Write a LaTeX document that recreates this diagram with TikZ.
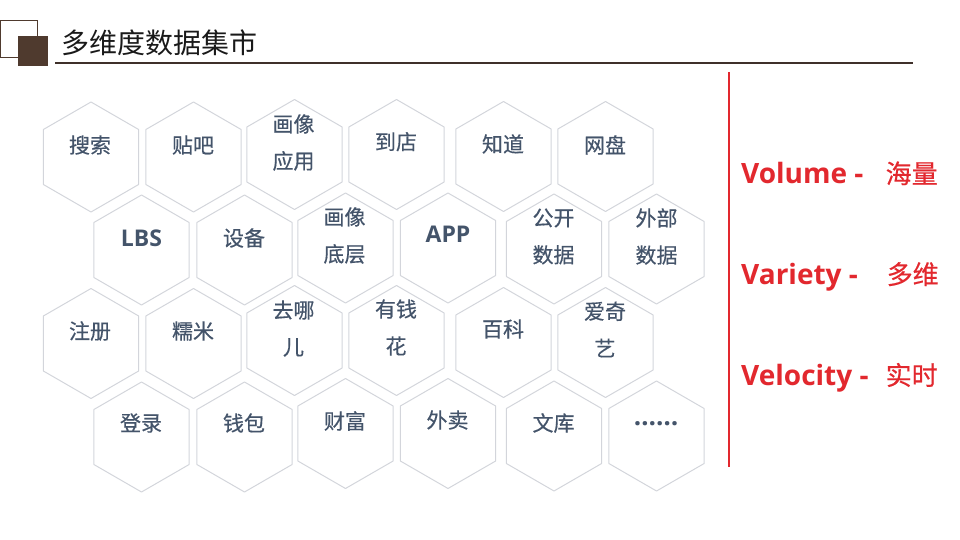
\documentclass[tikz,border=0pt]{standalone}
\usepackage{fontspec}
\setmainfont{Open Sans}
\newfontfamily\cjk{Noto Sans CJK SC}
\newfontfamily\cjkm{Noto Sans CJK SC}[FakeBold=0.5]
\definecolor{hexgray}{HTML}{D3D5DB}
\definecolor{slate}{HTML}{44546A}
\definecolor{accentred}{HTML}{E2282E}
\definecolor{iconbrown}{HTML}{4F3A2E}
\definecolor{rulebrown}{HTML}{3F302A}
\newcommand\hexat[2]{\draw[hexline] (#1,#2) +(90:55) -- +(150:55) -- +(210:55) -- +(270:55) -- +(330:55) -- +(30:55) -- cycle;}
\begin{document}
\begin{tikzpicture}[x=1pt,y=-1pt,
  hexline/.style={draw=hexgray, line width=1pt, line join=round},
  lbl/.style={text=slate, font=\cjkm\fontsize{21}{37}\selectfont, align=center, inner sep=0pt},
  blbl/.style={text=slate, font=\fontsize{23}{26}\selectfont\bfseries, inner sep=0pt},
  redlat/.style={text=accentred, font=\fontsize{28}{30}\selectfont\bfseries, anchor=base west, inner sep=0pt},
  redcjk/.style={text=accentred, font=\cjkm\fontsize{26}{30}\selectfont, anchor=base west, inner sep=0pt}]
\useasboundingbox (0,0) rectangle (960,540);
% header
\draw[iconbrown, line width=1pt] (0.5,21) rectangle (37.5,58);
\fill[iconbrown] (18,36) rectangle (48,66);
\node[anchor=west, inner sep=0pt, font=\cjk\fontsize{28}{30}\selectfont, text=black!90] (title) at (61,43) {多维度数据集市};
\draw[rulebrown, line width=2pt] (55,63.5) -- (913,63.5);
% hexagons
\hexat{91}{157}\hexat{193.5}{157}\hexat{294.5}{154.5}\hexat{396.5}{154.5}\hexat{503.5}{156.5}\hexat{605.5}{156.5}
\hexat{141.5}{250}\hexat{244.5}{250}\hexat{345.5}{248}\hexat{448}{248}\hexat{554}{249}\hexat{656.5}{249}
\hexat{91}{343.5}\hexat{193.5}{343.5}\hexat{294.5}{340.5}\hexat{396.5}{340.5}\hexat{503.5}{342.5}\hexat{605.5}{342.5}
\hexat{141.5}{437}\hexat{244.5}{437}\hexat{345.5}{433.5}\hexat{448}{433.5}\hexat{554}{436}\hexat{656.5}{436}
% labels
\node[lbl] (t11) at (90,145) {搜索};
\node[lbl] (t12) at (193,145) {贴吧};
\node[lbl] (t13) at (293.5,142.5) {画像\\应用};
\node[lbl] (t14) at (396,141.7) {到店};
\node[lbl] (t15) at (503,144) {知道};
\node[lbl] (t16) at (605,145) {网盘};
\node[blbl] (t21) at (141.5,238) {LBS};
\node[lbl] (t22) at (244,238) {设备};
\node[lbl] (t23) at (344.5,235.5) {画像\\底层};
\node[blbl] (t24) at (448,234) {APP};
\node[lbl] (t25) at (553.5,236.5) {公开\\数据};
\node[lbl] (t26) at (656.5,236.5) {外部\\数据};
\node[lbl] (t31) at (90,331) {注册};
\node[lbl] (t32) at (193,331) {糯米};
\node[lbl] (t33) at (293.5,328.5) {去哪\\儿};
\node[lbl] (t34) at (396,327.5) {有钱\\花};
\node[lbl] (t35) at (503,329) {百科};
\node[lbl] (t36) at (605,329.5) {爱奇\\艺};
\node[lbl] (t41) at (141,423) {登录};
\node[lbl] (t42) at (244,423) {钱包};
\node[lbl] (t43) at (345,421) {财富};
\node[lbl] (t44) at (447.5,420) {外卖};
\node[lbl] (t45) at (553.5,423) {文库};
\node[lbl, font=\fontsize{26}{28}\selectfont\bfseries] (t46) at (656,424) {……};
% right side
\draw[accentred, line width=2pt] (728.5,72) -- (728.5,467);
\node[redlat] (v1) at (741,183.3) {Volume -};
\node[redcjk] (c1) at (885.5,183.3) {海量};
\node[redlat] (v2) at (741,284) {Variety -};
\node[redcjk] (c2) at (886.5,284) {多维};
\node[redlat] (v3) at (741,385) {Velocity -};
\node[redcjk] (c3) at (885.5,385) {实时};
\end{tikzpicture}
\end{document}
